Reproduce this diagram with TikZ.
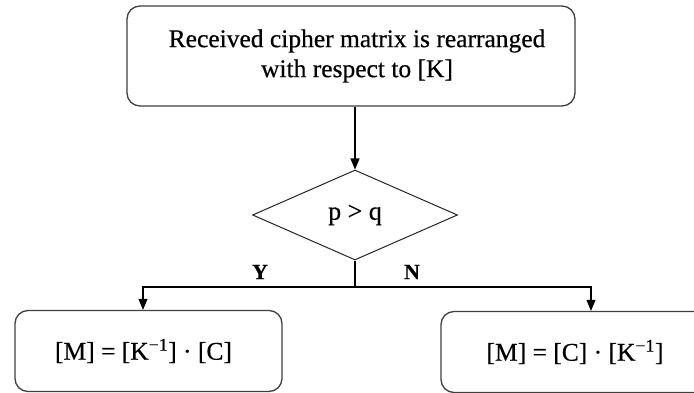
\documentclass[tikz,border=0pt]{standalone}
\usepackage{fontspec}
\setmainfont{Liberation Serif}[FakeBold=0.4]
\newfontfamily\heavyserif{Liberation Serif}[FakeBold=0.5]
\usetikzlibrary{shapes.geometric,arrows.meta}
\begin{document}
\begin{tikzpicture}[x=1pt,y=-1pt,
  box/.style={draw=black!75,line width=1.3pt,rounded corners=13pt,align=center,
    inner sep=0pt,font=\heavyserif\fontsize{25.5}{30}\selectfont},
  decision/.style={draw=black!85,line width=1pt,shape=diamond,inner sep=0pt,
    font=\heavyserif\fontsize{26}{28}\selectfont},
  flow/.style={line width=1.1pt,-{Triangle[length=11pt,width=9pt]}},
  branch/.style={font=\bfseries\fontsize{22}{24}\selectfont}]
\clip (0,0) rectangle (694,393);
\fill[white] (0,0) rectangle (694,393);
% process boxes and the test
\node[box,minimum width=448pt,minimum height=100pt] (top) at (351,56)
  {\raisebox{5pt}{\hspace*{12pt}Received cipher matrix is rearranged}\\
   \raisebox{5pt}{\hspace*{12pt}with respect to [K]}};
\node[decision,minimum width=205pt,minimum height=90pt] (dia) at (355,215) {p > q};
\node[box,minimum width=267pt,minimum height=81pt] (lb) at (148.5,351)
  {\raisebox{-3pt}{[M] = [K\textsuperscript{−1}] · [C]}\hspace*{10pt}};
\node[box,minimum width=268pt,minimum height=81pt] (rb) at (575,352)
  {\raisebox{-3pt}{[M] = [C] · [K\textsuperscript{−1}]}};
% connectors
\coordinate (j) at (355,287);
\draw[flow] (dia.north |- top.south) -- (dia.north);
\draw[line width=1.1pt] (dia.south) -- (j);
\draw[flow] (j) -| ([xshift=-5.5pt]lb.north);
\draw[flow] (j) -| ([xshift=16pt]rb.north);
\node[branch] (ylab) at (260,272) {Y};
\node[branch] (nlab) at (412,272) {N};
\end{tikzpicture}
\end{document}
